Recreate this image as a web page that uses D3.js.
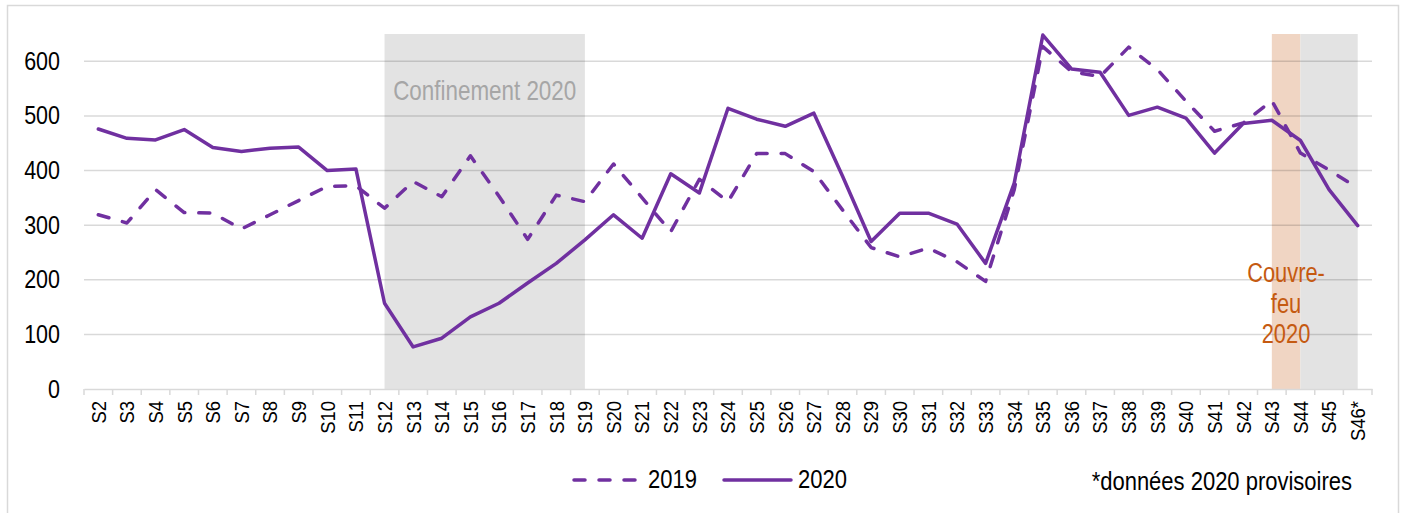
<!DOCTYPE html>
<html>
<head>
<meta charset="utf-8">
<script src="https://cdn.jsdelivr.net/npm/d3@7"></script>
<style>
  html, body { margin: 0; padding: 0; background: #ffffff; }
  svg text { font-family: 'Liberation Sans', Arial, sans-serif; }
</style>
</head>
<body>
<svg id="chart" width="1407" height="513"></svg>
<script>
// ---DATA---//
var weeks = [ "S2", "S3", "S4", "S5", "S6", "S7", "S8", "S9", "S10", "S11",
		"S12", "S13", "S14", "S15", "S16", "S17", "S18", "S19", "S20", "S21",
		"S22", "S23", "S24", "S25", "S26", "S27", "S28", "S29", "S30", "S31",
		"S32", "S33", "S34", "S35", "S36", "S37", "S38", "S39", "S40", "S41",
		"S42", "S43", "S44", "S45", "S46*" ];

var values2019 = [ 319, 304, 365, 323, 322, 293, 319, 345, 371, 372,
		331, 380, 352, 427, 353, 274, 355, 343, 412, 350,
		288, 384, 343, 431, 431, 398, 328, 259, 242, 258,
		233, 197, 365, 627, 581, 572, 626, 585, 527, 472,
		487, 528, 432, 401, 368 ];

var values2020 = [ 476, 459, 456, 475, 442, 435, 441, 443, 400, 403,
		157, 77, 93, 132, 157, 194, 230, 273, 319, 276,
		394, 359, 514, 494, 481, 505, 390, 270, 322, 322,
		302, 230, 377, 648, 586, 580, 501, 516, 496, 432,
		486, 492, 455, 365, 299 ];

var yTicks = [ 0, 100, 200, 300, 400, 500, 600 ];

// shaded periods (from week centre to week centre)
var periodStarts = [ "S12", "S43", "S44" ];
var periodEnds = [ "S19", "S44", "S46*" ];
var periodColors = [ "#e3e3e3", "#f0d5c3", "#e3e3e3" ];

var seriesNames = [ "2019", "2020" ];
var seriesDash = [ "11,14", null ];

// ---LAYOUT---//
var svg = d3.select("#chart");
var purple = "#7030a0";

var margin = { left : 84, right : 1372, top : 34, bottom : 389 };

var x = d3.scaleBand().domain(weeks).range([ margin.left, margin.right ]).padding(0);
var y = d3.scaleLinear().domain([ 0, 650 ]).range([ margin.bottom, margin.top ]);

function cx(w) {
	return x(w) + x.bandwidth() / 2;
}// END: cx

// text squeezed horizontally (the original uses a narrow face)
function narrowText(parent, px, py, str, size, color, anchor, k) {
	return parent.append("text")
		.attr("transform", "translate(" + px + "," + py + ") scale(" + k + ",1)")
		.attr("text-anchor", anchor)
		.attr("font-size", size + "px")
		.attr("fill", color)
		.text(str);
}// END: narrowText

// outer frame
svg.append("rect")
	.attr("x", 7.5).attr("y", 5.5)
	.attr("width", 1391).attr("height", 540)
	.attr("fill", "none")
	.attr("stroke", "#d9d9d9")
	.attr("stroke-width", 1.5);

// shaded periods
svg.append("g").attr("class", "periods")
	.selectAll("rect").data(periodStarts).enter()
	.append("rect")
	.attr("x", function(d) { return cx(d); })
	.attr("y", y(650))
	.attr("width", function(d, i) { return cx(periodEnds[i]) - cx(d); })
	.attr("height", y(0) - y(650))
	.attr("fill", function(d, i) { return periodColors[i]; });

// gridlines
svg.append("g").attr("class", "grid")
	.selectAll("line").data(yTicks.filter(function(d) { return d > 0; })).enter()
	.append("line")
	.attr("x1", margin.left).attr("x2", margin.right)
	.attr("y1", function(d) { return y(d); })
	.attr("y2", function(d) { return y(d); })
	.attr("stroke", "rgba(0,0,0,0.15)")
	.attr("stroke-width", 1.5);

// y axis labels
var yAxis = d3.axisLeft(y).tickValues(yTicks).tickSize(0).tickPadding(0);
var yg = svg.append("g")
	.attr("transform", "translate(60,0)")
	.call(yAxis);
yg.select(".domain").remove();
yg.selectAll("text")
	.attr("font-size", "25px")
	.attr("fill", "#000000")
	.attr("font-family", null)
	.attr("transform", "scale(0.86,1)");

// x axis
var xAxis = d3.axisBottom(x).tickSize(0).tickPadding(0);
var xg = svg.append("g")
	.attr("transform", "translate(0," + y(0) + ")")
	.call(xAxis);
xg.select(".domain")
	.attr("stroke", "#d9d9d9")
	.attr("stroke-width", 1.5);
xg.selectAll("text")
	.attr("font-size", "21px")
	.attr("fill", "#000000")
	.attr("font-family", null)
	.attr("text-anchor", "end")
	.attr("transform", "translate(0,12) rotate(-90) scale(0.88,1)")
	.attr("dy", "0.35em")
	.attr("y", 0);

// tick marks between weeks
var boundaries = weeks.map(function(w) { return x(w); }).concat([ margin.right ]);
xg.selectAll("line.sep").data(boundaries).enter()
	.append("line")
	.attr("class", "sep")
	.attr("x1", function(d) { return d; })
	.attr("x2", function(d) { return d; })
	.attr("y1", 0).attr("y2", 6)
	.attr("stroke", "#d9d9d9")
	.attr("stroke-width", 1.5);

// period labels
narrowText(svg, (cx("S12") + cx("S19")) / 2, 100, "Confinement 2020", 27, "#a6a6a6", "middle", 0.83);

[ "Couvre-", "feu", "2020" ].forEach(function(t, i) {
	narrowText(svg, 1286, 282 + i * 30.5, t, 27, "#c55a11", "middle", 0.81);
});

// lines
var line = d3.line()
	.x(function(d, i) { return cx(weeks[i]); })
	.y(function(d) { return y(d); });

var series = [ values2019, values2020 ];
svg.append("g").attr("class", "series")
	.selectAll("path").data(series).enter()
	.append("path")
	.attr("d", function(d) { return line(d); })
	.attr("fill", "none")
	.attr("stroke", purple)
	.attr("stroke-width", 3.5)
	.attr("stroke-linejoin", "round")
	.attr("stroke-linecap", "round")
	.attr("stroke-dasharray", function(d, i) { return seriesDash[i]; });

// legend
var legendX = [ 574, 724 ];
var legend = svg.append("g").attr("class", "legend");
seriesNames.forEach(function(name, i) {
	legend.append("line")
		.attr("x1", legendX[i]).attr("x2", legendX[i] + 67)
		.attr("y1", 480).attr("y2", 480)
		.attr("stroke", purple)
		.attr("stroke-width", 3.5)
		.attr("stroke-linecap", "round")
		.attr("stroke-dasharray", seriesDash[i]);
	narrowText(legend, legendX[i] + 74, 488, name, 25, "#000000", "start", 0.88);
});

// footnote
narrowText(svg, 1352, 490, "*données 2020 provisoires", 25, "#000000", "end", 0.88);
</script>
</body>
</html>
